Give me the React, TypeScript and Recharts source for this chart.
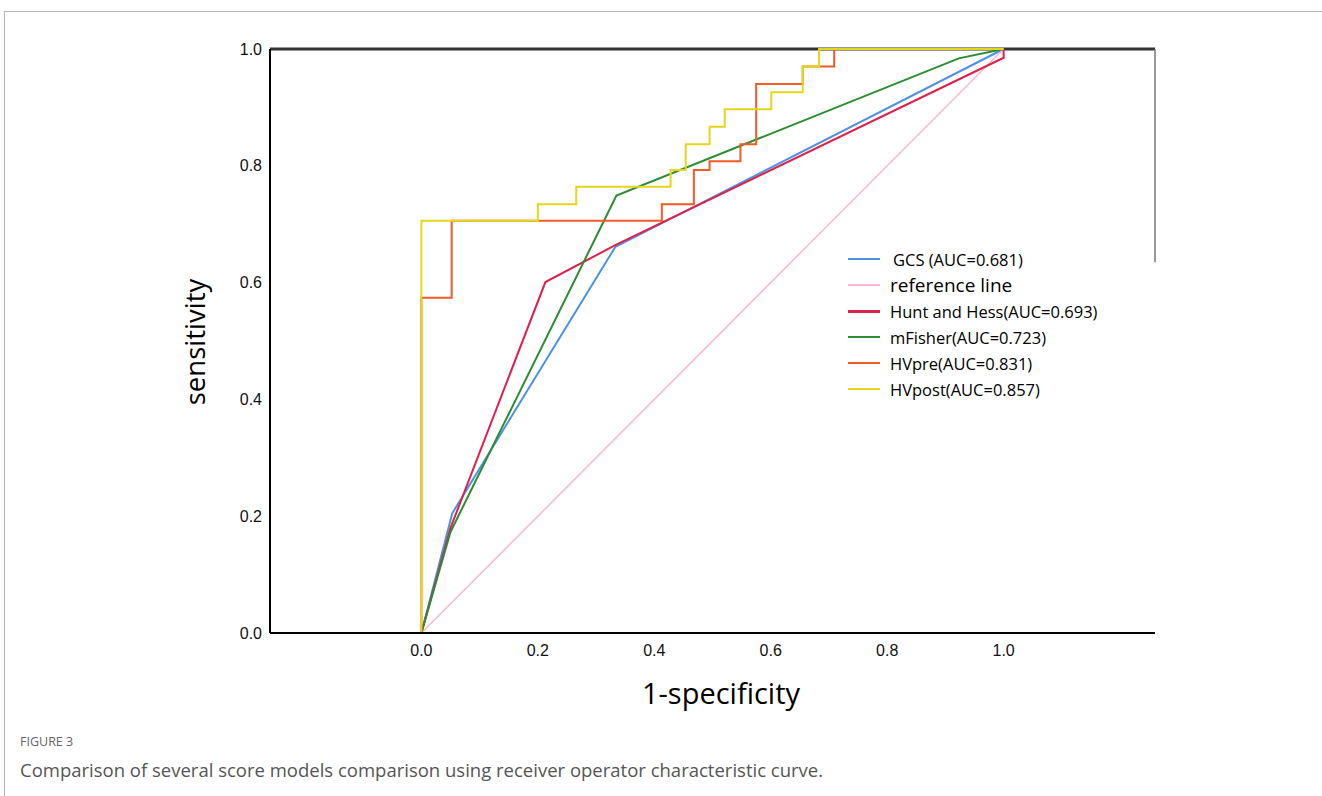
import { Legend, Line, LineChart, ReferenceLine, XAxis, YAxis } from 'recharts'

// ROC curve points (1-specificity, sensitivity)
const xTicks = [0, 0.2, 0.4, 0.6, 0.8, 1.0]
const yTicks = [0, 0.2, 0.4, 0.6, 0.8, 1.0]

const gcsFpr = [0, 0.053, 0.333, 1]
const gcsTpr = [0, 0.205, 0.661, 1]

const refFpr = [0, 1]
const refTpr = [0, 1]

const hhFpr = [0, 0.05, 0.213, 0.333, 1, 1]
const hhTpr = [0, 0.18, 0.601, 0.664, 0.985, 1]

const mfFpr = [0, 0.05, 0.335, 0.923, 1]
const mfTpr = [0, 0.173, 0.749, 0.984, 1]

const hvPreFpr = [0, 0, 0.052, 0.052, 0.413, 0.413, 0.468, 0.468, 0.495, 0.495, 0.548, 0.548, 0.575, 0.575, 0.655, 0.655, 0.709, 0.709, 1]
const hvPreTpr = [0, 0.574, 0.574, 0.706, 0.706, 0.734, 0.734, 0.793, 0.793, 0.808, 0.808, 0.837, 0.837, 0.94, 0.94, 0.97, 0.97, 1, 1]

const hvPostFpr = [0, 0, 0.2, 0.2, 0.266, 0.266, 0.428, 0.428, 0.454, 0.454, 0.495, 0.495, 0.521, 0.521, 0.601, 0.601, 0.655, 0.655, 0.683, 0.683, 1]
const hvPostTpr = [0, 0.706, 0.706, 0.734, 0.734, 0.764, 0.764, 0.793, 0.793, 0.837, 0.837, 0.867, 0.867, 0.897, 0.897, 0.926, 0.926, 0.97, 0.97, 1, 1]

const seriesNames = [
  'GCS (AUC=0.681)',
  'reference line',
  'Hunt and Hess(AUC=0.693)',
  'mFisher(AUC=0.723)',
  'HVpre(AUC=0.831)',
  'HVpost(AUC=0.857)',
]

const colors = ['#4a92e6', '#f7b8d4', '#e0204c', '#2b8c32', '#f25a26', '#e6d61a']

const toPoints = (xs: number[], ys: number[]) => xs.map((x, i) => ({ x, y: ys[i] }))

const series = [
  toPoints(gcsFpr, gcsTpr),
  toPoints(refFpr, refTpr),
  toPoints(hhFpr, hhTpr),
  toPoints(mfFpr, mfTpr),
  toPoints(hvPreFpr, hvPreTpr),
  toPoints(hvPostFpr, hvPostTpr),
]

const labelFont = '"Open Sans", "Noto Sans", sans-serif'
const tickFont = '"Liberation Sans", Arial, sans-serif'

function RocLegend() {
  return (
    <div style={{ fontFamily: labelFont, color: '#000' }}>
      {seriesNames.map((name, i) => (
        <div key={name} style={{ display: 'flex', alignItems: 'center', height: 26 }}>
          <div
            style={{
              width: 32,
              height: i === 2 ? 3 : 2,
              background: colors[i],
              marginRight: i === 0 ? 13 : 10,
            }}
          />
          <span style={{ fontSize: i === 1 ? 19 : 16.5, whiteSpace: 'nowrap' }}>{name}</span>
        </div>
      ))}
    </div>
  )
}

export default function App() {
  return (
    <div style={{ position: 'absolute', left: 0, top: 0, width: 1322, height: 796, background: '#fff' }}>
      {/* page frame */}
      <div style={{ position: 'absolute', left: 4, top: 11, width: 1318, height: 1, background: '#b4b4b4' }} />
      <div style={{ position: 'absolute', left: 4, top: 11, width: 1, height: 785, background: '#b4b4b4' }} />

      <LineChart
        width={1322}
        height={796}
        margin={{ top: 49, right: 167, left: 0, bottom: 0 }}
        style={{ position: 'absolute', left: 0, top: 0 }}
      >
        <XAxis
          dataKey='x'
          type='number'
          domain={[-0.26, 1.26]}
          ticks={xTicks}
          tickFormatter={(v: number) => v.toFixed(1)}
          height={163}
          tickLine={false}
          tickSize={0}
          tickMargin={12}
          axisLine={{ stroke: '#000', strokeWidth: 2 }}
          tick={{ fill: '#111', fontSize: 16, fontFamily: tickFont }}
          allowDataOverflow
        />
        <YAxis
          dataKey='y'
          type='number'
          domain={[0, 1]}
          ticks={yTicks}
          tickFormatter={(v: number) => v.toFixed(1)}
          width={270}
          tickLine={false}
          tickSize={0}
          tickMargin={8}
          axisLine={{ stroke: '#000', strokeWidth: 2 }}
          tick={{ fill: '#111', fontSize: 16, fontFamily: tickFont }}
        />
        <ReferenceLine y={1} stroke='#333' strokeWidth={3} />
        <ReferenceLine
          segment={[
            { x: 1.26, y: 1 },
            { x: 1.26, y: 0.635 },
          ]}
          stroke='#777'
          strokeWidth={1.5}
        />
        {series.map((pts, i) => (
          <Line
            key={seriesNames[i]}
            data={pts}
            dataKey='y'
            name={seriesNames[i]}
            type='linear'
            stroke={colors[i]}
            strokeWidth={i === 1 ? 1.5 : 2}
            dot={false}
            activeDot={false}
            isAnimationActive={false}
          />
        ))}
        <Legend
          layout='vertical'
          align='center'
          verticalAlign='middle'
          content={() => <RocLegend />}
          wrapperStyle={{ left: 848, top: 246, width: 300, height: 160 }}
        />
      </LineChart>

      {/* axis titles */}
      <div
        style={{
          position: 'absolute',
          left: 194,
          top: 342,
          transform: 'translate(-50%, -50%) rotate(-90deg)',
          fontFamily: labelFont,
          fontSize: 27.5,
          color: '#000',
          whiteSpace: 'nowrap',
        }}
      >
        sensitivity
      </div>
      <div
        style={{
          position: 'absolute',
          left: 721,
          top: 692,
          transform: 'translate(-50%, -50%)',
          fontFamily: labelFont,
          fontSize: 29,
          color: '#000',
          whiteSpace: 'nowrap',
        }}
      >
        1-specificity
      </div>

      {/* caption */}
      <div
        style={{
          position: 'absolute',
          left: 20,
          top: 734,
          fontFamily: labelFont,
          fontSize: 12.5,
          color: '#666',
          lineHeight: '16px',
        }}
      >
        FIGURE 3
      </div>
      <div
        style={{
          position: 'absolute',
          left: 20,
          top: 758,
          fontFamily: labelFont,
          fontSize: 18.5,
          color: '#555',
          lineHeight: '24px',
          whiteSpace: 'nowrap',
        }}
      >
        Comparison of several score models comparison using receiver operator characteristic curve.
      </div>
    </div>
  )
}
